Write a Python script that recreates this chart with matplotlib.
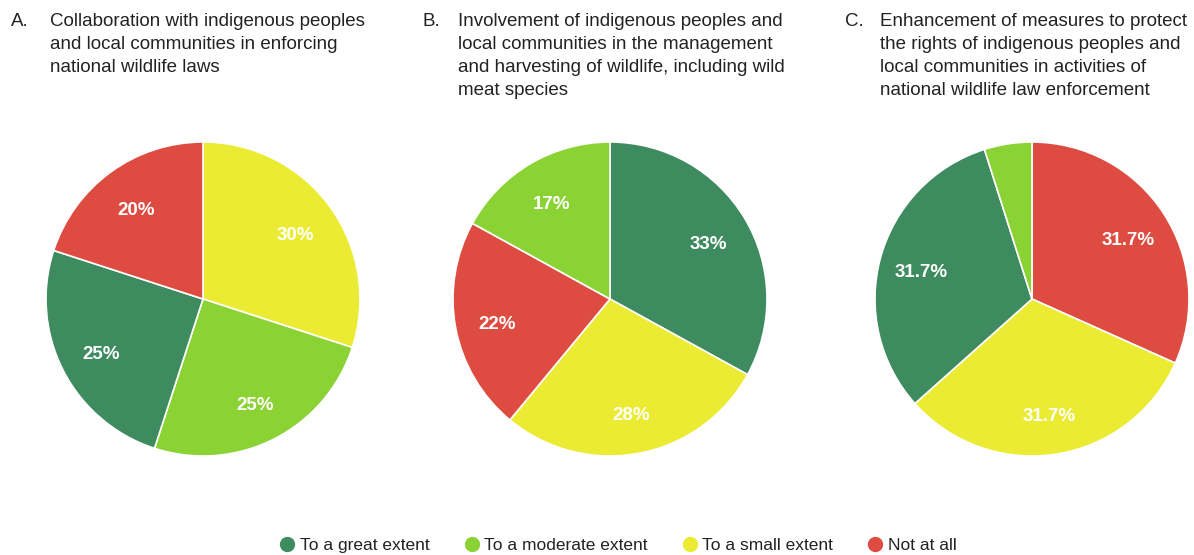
import matplotlib
matplotlib.use("Agg")
import matplotlib.pyplot as plt
from matplotlib.lines import Line2D
from matplotlib.font_manager import FontProperties

plt.rcParams['font.family'] = ['Liberation Sans', 'DejaVu Sans']

# Response categories and colours
categories = ["To a great extent", "To a moderate extent", "To a small extent", "Not at all"]
colors = {
    "To a great extent": "#3e8b5f",
    "To a moderate extent": "#8bd234",
    "To a small extent": "#ebeb33",
    "Not at all": "#de4c41",
}

# Panel titles
title_letters = ["A.", "B.", "C."]
titles = [
    "Collaboration with indigenous peoples\nand local communities in enforcing\nnational wildlife laws",
    "Involvement of indigenous peoples and\nlocal communities in the management\nand harvesting of wildlife, including wild\nmeat species",
    "Enhancement of measures to protect\nthe rights of indigenous peoples and\nlocal communities in activities of\nnational wildlife law enforcement",
]

# Slices per panel, in drawing order (clockwise from 12 o'clock)
a_labels = ["To a small extent", "To a moderate extent", "To a great extent", "Not at all"]
a_values = [30, 25, 25, 20]
b_labels = ["To a great extent", "To a small extent", "Not at all", "To a moderate extent"]
b_values = [33, 28, 22, 17]
c_labels = ["Not at all", "To a small extent", "To a great extent", "To a moderate extent"]
c_values = [31.7, 31.7, 31.7, 4.9]

panels = [(a_labels, a_values, "{:.0f}%"),
          (b_labels, b_values, "{:.0f}%"),
          (c_labels, c_values, "{:.1f}%")]

W, H = 1194, 555
fig = plt.figure(figsize=(W / 100, H / 100), dpi=100)

centers_x = [203, 610, 1032]
center_y = 299
radius_px = 157
title_x = [11, 422, 845]
title_text_x = [50, 458, 880]
text_color = "#222222"

for i, (labels, values, fmt) in enumerate(panels):
    cx = centers_x[i]
    ax = fig.add_axes([(cx - radius_px) / W, (H - center_y - radius_px) / H,
                       2 * radius_px / W, 2 * radius_px / H])

    def pct(p, fmt=fmt):
        return fmt.format(p) if p >= 5 else ""

    _, _, autotexts = ax.pie(
        values,
        colors=[colors[l] for l in labels],
        startangle=90,
        counterclock=False,
        autopct=pct,
        pctdistance=0.73,
        wedgeprops=dict(edgecolor="white", linewidth=1.2),
        textprops=dict(color="white", fontsize=13.5, fontweight="bold"),
    )
    # nudge the percentage labels slightly downward
    for t in autotexts:
        x, y = t.get_position()
        t.set_position((x, y - 0.025))
    ax.set_xlim(-1.0, 1.0)
    ax.set_ylim(-1.0, 1.0)
    ax.set_aspect("equal")
    ax.axis("off")

    fig.text(title_x[i] / W, 1 - 13.5 / H, title_letters[i], fontsize=13.5,
             color=text_color, va="top", ha="left")
    fig.text(title_text_x[i] / W, 1 - 13.5 / H, titles[i], fontsize=13.5,
             color=text_color, va="top", ha="left", linespacing=1.45)

handles = [Line2D([0], [0], marker="o", linestyle="none", markersize=10,
                  markerfacecolor=colors[c], markeredgecolor=colors[c])
           for c in categories]
fig.legend(handles, categories, loc="center", bbox_to_anchor=(618 / W, 1 - 545 / H),
           ncol=4, frameon=False, prop=FontProperties(family="Liberation Sans", size=12.5),
           handletextpad=0.25, columnspacing=2.0, handlelength=0.9, labelcolor=text_color)

fig.savefig("out.png", dpi=100)
